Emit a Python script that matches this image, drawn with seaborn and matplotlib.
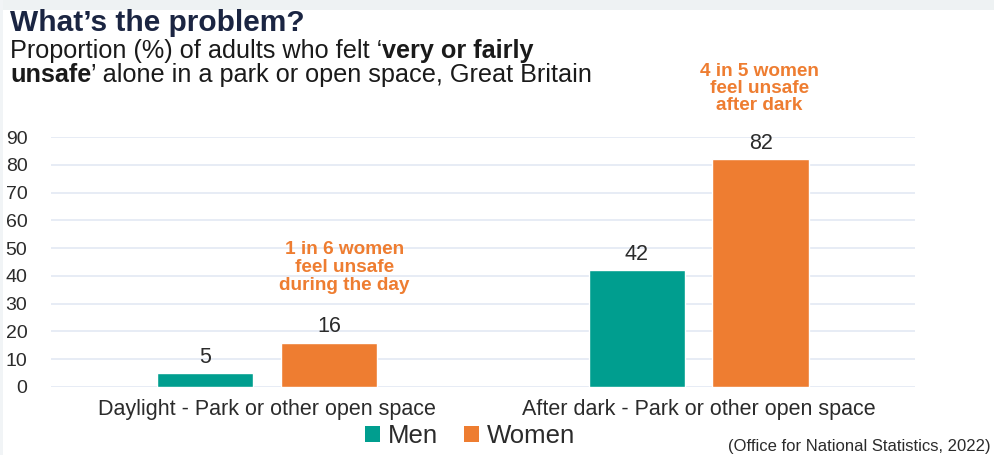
import matplotlib
matplotlib.use("Agg")
import matplotlib.pyplot as plt
import seaborn as sns
import pandas as pd
from matplotlib.patches import Patch, Rectangle

categories = ["Daylight - Park or other open space", "After dark - Park or other open space"]
men = [5, 42]
women = [16, 82]
series = ["Men", "Women"]
yticks = [0, 10, 20, 30, 40, 50, 60, 70, 80, 90]

df = pd.DataFrame({
    "category": categories * 2,
    "value": men + women,
    "sex": ["Men"] * 2 + ["Women"] * 2,
})

sns.set_theme(style="white")
plt.rcParams["font.family"] = ["Liberation Sans", "DejaVu Sans"]

TEAL = "#009E8F"
ORANGE = "#EE7D31"
NAVY = "#1B2542"
DARK = "#2b2b2b"

fig = plt.figure(figsize=(9.94, 4.55), dpi=100)
fig.patch.set_facecolor("white")

# faint band at top of slide
fig.add_artist(Rectangle((0, 1 - 10 / 455), 1, 10 / 455, transform=fig.transFigure,
                         facecolor="#eef2f3", edgecolor="none", zorder=0))
fig.add_artist(Rectangle((0, 0), 3 / 994, 1, transform=fig.transFigure,
                         facecolor="#f1f4f6", edgecolor="none", zorder=0))

ax = fig.add_axes([0.0513, 0.1495, 0.8692, 0.5494])
ax.patch.set_alpha(0)

sns.barplot(data=df, x="category", y="value", hue="sex", hue_order=series,
            palette=[TEAL, ORANGE], width=0.574, gap=0.218, ax=ax,
            legend=False, saturation=1, zorder=3)

ax.set_xlim(-0.5, 1.5)
ax.set_ylim(0, 90)
ax.set_yticks(yticks)
ax.set_yticklabels([str(t) for t in yticks], fontsize=14, color=DARK)
ax.tick_params(axis="y", length=0, pad=17)
ax.tick_params(axis="x", length=0, pad=9, labelsize=15.5, labelcolor=DARK)
ax.set_xlabel("")
ax.set_ylabel("")
for s in ax.spines.values():
    s.set_visible(False)
ax.yaxis.grid(True, color="#e3e9f3", linewidth=1.2, zorder=0)
ax.set_axisbelow(True)

for cont in ax.containers:
    ax.bar_label(cont, fmt="%d", padding=4, fontsize=15.5, color=DARK)

ax.text(0.18, 43, "1 in 6 women\nfeel unsafe\nduring the day", ha="center", va="center",
        color=ORANGE, fontsize=13.7, fontweight="bold", linespacing=1.08)
ax.text(1.14, 107.5, "4 in 5 women\nfeel unsafe\nafter dark", ha="center", va="center",
        color=ORANGE, fontsize=13.7, fontweight="bold", linespacing=1.02, clip_on=False)

# Title & subtitle
fig.text(10 / 994, 1 - 23 / 455, "What\u2019s the problem?", ha="left", va="center",
         fontsize=21.5, fontweight="bold", color=NAVY)

fig.canvas.draw()
renderer = fig.canvas.get_renderer()


def add_runs(y, runs, size):
    x = 10 / 994
    for txt, bold in runs:
        t = fig.text(x, y, txt, ha="left", va="center", fontsize=size,
                     fontweight="bold" if bold else "normal", color="#1a1a1a")
        bb = t.get_window_extent(renderer=renderer)
        x = bb.x1 / fig.bbox.width


add_runs(1 - 51 / 455, [("Proportion (%) of adults who felt \u2018", False), ("very or fairly", True)], 18.2)
add_runs(1 - 75 / 455, [("unsafe", True), ("\u2019 alone in a park or open space, Great Britain", False)], 18.2)

handles = [Patch(facecolor=TEAL, edgecolor="none"), Patch(facecolor=ORANGE, edgecolor="none")]
fig.legend(handles, series, loc="center", bbox_to_anchor=(470 / 994, 1 - 436 / 455),
           ncol=2, frameon=False, fontsize=18.5, handlelength=0.6, handleheight=0.6,
           handletextpad=0.3, columnspacing=1.0, labelcolor=DARK)

fig.text(728 / 994, 1 - 447 / 455, "(Office for National Statistics, 2022)", ha="left", va="center",
         fontsize=12, color=DARK)

fig.savefig("out.png", dpi=100)
